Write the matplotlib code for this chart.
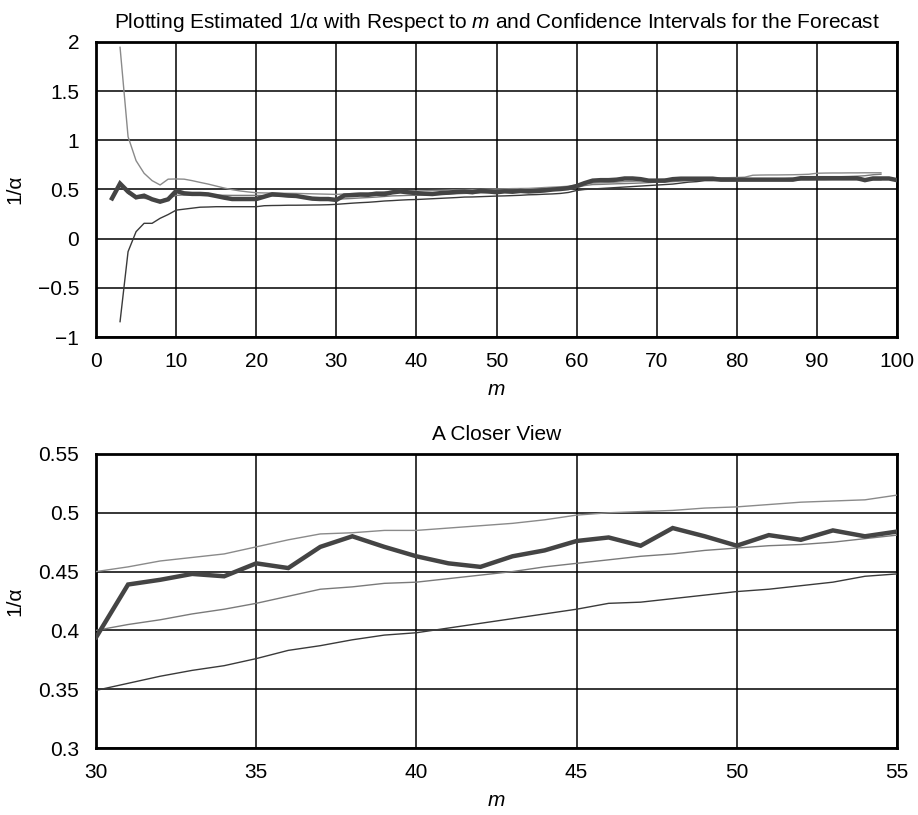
'''
Estimated 1/alpha against m with confidence bands, full range and a closer view
'''
import numpy as np
import matplotlib
matplotlib.use('Agg')
import matplotlib.pyplot as plt
from matplotlib.ticker import FuncFormatter

plt.rcParams['font.family'] = ['Liberation Sans', 'DejaVu Sans']
plt.rcParams['mathtext.fontset'] = 'custom'
plt.rcParams['mathtext.it'] = 'Liberation Sans:italic'
plt.rcParams['mathtext.rm'] = 'Liberation Sans'
plt.rcParams['axes.unicode_minus'] = True

# m values for the estimate (2..100) and for the forecast bands (3..98)
mEst = np.arange(2, 101)
mBand = np.arange(3, 99)

# estimated 1/alpha (thick line)
est = [0.41, 0.56, 0.478, 0.42, 0.437, 0.40, 0.376, 0.40, 0.485,
       0.461, 0.455, 0.455, 0.45, 0.434, 0.417, 0.403, 0.403, 0.403, 0.403,
       0.427, 0.451, 0.445, 0.438, 0.434, 0.42, 0.407, 0.403, 0.403, 0.394,
       0.439, 0.443, 0.448, 0.446, 0.457, 0.453, 0.471, 0.480, 0.471, 0.463,
       0.457, 0.454, 0.463, 0.468, 0.476, 0.479, 0.472, 0.487, 0.480, 0.472,
       0.481, 0.477, 0.485, 0.480, 0.484, 0.49, 0.50, 0.505, 0.515, 0.535,
       0.565, 0.59, 0.595, 0.595, 0.60, 0.612, 0.612, 0.605, 0.59, 0.59,
       0.59, 0.605, 0.61, 0.61, 0.61, 0.61, 0.61, 0.60, 0.60, 0.60,
       0.60, 0.60, 0.60, 0.60, 0.60, 0.60, 0.60, 0.615, 0.615, 0.615,
       0.615, 0.615, 0.615, 0.615, 0.615, 0.595, 0.612, 0.612, 0.612, 0.595]

# upper confidence limit
upper = [1.946, 1.037, 0.793, 0.665, 0.59, 0.546, 0.605, 0.607, 0.605, 0.59,
         0.572, 0.555, 0.535, 0.515, 0.498, 0.485, 0.475, 0.467, 0.465, 0.464,
         0.462, 0.461, 0.46, 0.458, 0.456, 0.454, 0.452, 0.450, 0.454, 0.459,
         0.462, 0.465, 0.471, 0.477, 0.482, 0.483, 0.485, 0.485, 0.487, 0.489,
         0.491, 0.494, 0.498, 0.500, 0.501, 0.502, 0.504, 0.505, 0.507, 0.509,
         0.510, 0.511, 0.515, 0.52, 0.524, 0.528, 0.533, 0.545, 0.558, 0.565,
         0.568, 0.57, 0.575, 0.58, 0.583, 0.586, 0.59, 0.60, 0.605, 0.607,
         0.61, 0.612, 0.614, 0.617, 0.62, 0.62, 0.62, 0.622, 0.625, 0.645,
         0.647, 0.648, 0.648, 0.649, 0.65, 0.652, 0.655, 0.665, 0.667, 0.668,
         0.668, 0.669, 0.669, 0.67, 0.67, 0.67]

# forecast
middle = [0.55, 0.46, 0.415, 0.41, 0.40, 0.39, 0.41, 0.44, 0.445, 0.445,
          0.444, 0.443, 0.442, 0.441, 0.44, 0.44, 0.44, 0.44, 0.438, 0.435,
          0.432, 0.428, 0.424, 0.42, 0.415, 0.41, 0.405, 0.400, 0.405, 0.409,
          0.414, 0.418, 0.423, 0.429, 0.435, 0.437, 0.440, 0.441, 0.444, 0.447,
          0.450, 0.454, 0.457, 0.460, 0.463, 0.465, 0.468, 0.470, 0.472, 0.473,
          0.475, 0.478, 0.481, 0.485, 0.49, 0.495, 0.50, 0.52, 0.54, 0.55,
          0.552, 0.555, 0.558, 0.56, 0.563, 0.566, 0.57, 0.575, 0.578, 0.58,
          0.585, 0.59, 0.595, 0.60, 0.60, 0.602, 0.603, 0.604, 0.605, 0.606,
          0.607, 0.608, 0.609, 0.61, 0.615, 0.62, 0.622, 0.625, 0.627, 0.63,
          0.63, 0.632, 0.635, 0.64, 0.65, 0.655]

# lower confidence limit
lower = [-0.844, -0.132, 0.071, 0.156, 0.156, 0.207, 0.245, 0.29, 0.30, 0.31,
         0.32, 0.322, 0.325, 0.325, 0.325, 0.325, 0.325, 0.325, 0.335, 0.337,
         0.338, 0.34, 0.34, 0.341, 0.342, 0.343, 0.345, 0.349, 0.355, 0.361,
         0.366, 0.370, 0.376, 0.383, 0.387, 0.392, 0.396, 0.398, 0.402, 0.406,
         0.410, 0.414, 0.418, 0.423, 0.424, 0.427, 0.430, 0.433, 0.435, 0.438,
         0.441, 0.446, 0.448, 0.452, 0.455, 0.46, 0.47, 0.49, 0.50, 0.505,
         0.51, 0.515, 0.52, 0.525, 0.53, 0.535, 0.54, 0.545, 0.55, 0.555,
         0.565, 0.575, 0.58, 0.59, 0.59, 0.592, 0.592, 0.593, 0.594, 0.594,
         0.595, 0.595, 0.596, 0.596, 0.597, 0.598, 0.598, 0.599, 0.599, 0.60,
         0.60, 0.60, 0.60, 0.60, 0.60, 0.60]

topXTicks = [0, 10, 20, 30, 40, 50, 60, 70, 80, 90, 100]
topYTicks = [-1, -0.5, 0, 0.5, 1, 1.5, 2]
botXTicks = [30, 35, 40, 45, 50, 55]
botYTicks = [0.3, 0.35, 0.4, 0.45, 0.5, 0.55]

FS = 15


def fmt(v, pos):
    s = '%g' % v
    return s.replace('-', '\u2212')


def drawPanel(ax, xlim, ylim, xticks, yticks, title):
    '''
    Draws the four series on one axes with the shared styling
    '''
    ax.plot(mBand, upper, color='#8a8a8a', lw=1.0, zorder=3)
    ax.plot(mBand, middle, color='#7a7a7a', lw=1.0, zorder=3)
    ax.plot(mBand, lower, color='#3a3a3a', lw=1.0, zorder=3)
    ax.plot(mEst, est, color='#444444', lw=3.2, zorder=4,
            solid_joinstyle='miter')

    ax.set_xlim(*xlim)
    ax.set_ylim(*ylim)
    ax.set_xticks(xticks)
    ax.set_yticks(yticks)
    ax.xaxis.set_major_formatter(FuncFormatter(fmt))
    ax.yaxis.set_major_formatter(FuncFormatter(fmt))
    ax.grid(True, color='black', lw=1.1)
    ax.set_axisbelow(True)
    ax.tick_params(length=0, labelsize=FS)
    ax.tick_params(axis='x', pad=11)
    ax.tick_params(axis='y', pad=12)
    for sp in ax.spines.values():
        sp.set_linewidth(2.0)
    ax.set_xlabel('$m$', fontsize=FS, labelpad=6)
    ax.set_ylabel('1/\u03b1', fontsize=FS, labelpad=10)
    ax.set_title(title, fontsize=FS, pad=10)


def main():
    fig = plt.figure(figsize=(9.18, 8.15), dpi=100)
    axTop = fig.add_axes([0.1046, 0.5865, 0.8725, 0.362])
    axBot = fig.add_axes([0.1046, 0.0822, 0.8725, 0.3608])

    drawPanel(axTop, (0, 100), (-1, 2), topXTicks, topYTicks,
              'Plotting Estimated 1/\u03b1 with Respect to $m$ and '
              'Confidence Intervals for the Forecast')
    drawPanel(axBot, (30, 55), (0.3, 0.55), botXTicks, botYTicks,
              'A Closer View')

    fig.savefig('out.png', dpi=100)


if __name__ == '__main__':
    main()
